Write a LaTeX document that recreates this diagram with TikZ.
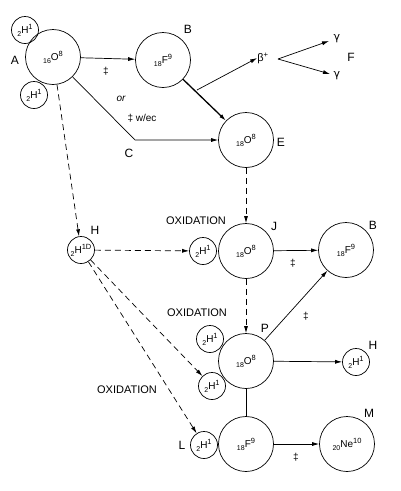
\documentclass[tikz,border=0pt]{standalone}
\usepackage{fontspec}
\setmainfont{Liberation Sans}
\newfontfamily\gfont{DejaVu Sans}
\usetikzlibrary{arrows.meta}
\newcommand\nuc[3]{\raisebox{-0.45ex}{\fontsize{7}{8}\selectfont #1}#2\raisebox{0.9ex}{\fontsize{7.5}{8}\selectfont #3}}
\tikzset{
  big/.style={draw,circle,minimum size=55pt,inner sep=0pt,font=\fontsize{10}{11}\selectfont,line width=0.7pt},
  small/.style={draw,circle,minimum size=27pt,inner sep=0pt,font=\fontsize{10}{11}\selectfont,line width=0.7pt},
  lab/.style={font=\fontsize{12}{13}\selectfont,inner sep=0pt},
  oxl/.style={font=\fontsize{11}{12}\selectfont,inner sep=0pt},
  dg/.style={font=\fontsize{10}{11}\selectfont,inner sep=0pt},
  arr/.style={line width=0.7pt,-{Latex[length=7pt,width=4pt]}},
  darr/.style={arr,dash pattern=on 6pt off 4pt},
}
\begin{document}
\begin{tikzpicture}[x=1pt,y=-1pt]
\useasboundingbox (0,0) rectangle (401,491);
% nodes
\node[big] (A) at (53,57) {\nuc{16}{O}{8}};
\node[small] (a1) at (25,30) {\nuc{2}{H}{1}};
\node[small] (a2) at (34,95) {\nuc{2}{H}{1}};
\node[big] (B) at (163,60) {\nuc{18}{F}{9}};
\node[big] (E) at (246,140) {\nuc{18}{O}{8}};
\coordinate (C) at (135,140);
\node[small] (H) at (81,250) {\nuc{2}{H}{1D}};
\node[small] (hj) at (203,251) {\nuc{2}{H}{1}};
\node[big] (J) at (246,251) {\nuc{18}{O}{8}};
\node[big] (B2) at (346,250) {\nuc{18}{F}{9}};
\node[big] (P) at (246,361) {\nuc{18}{O}{8}};
\node[small] (p1) at (210,339) {\nuc{2}{H}{1}};
\node[small] (p2) at (212,386) {\nuc{2}{H}{1}};
\node[small] (H2) at (356,362) {\nuc{2}{H}{1}};
\node[big] (Lf) at (246,444) {\nuc{18}{F}{9}};
\node[small] (Lh) at (204,445) {\nuc{2}{H}{1}};
\node[big] (M) at (347,444) {\nuc{20}{Ne}{10}};
% beta decay
\node[font=\fontsize{11}{12}\selectfont,inner sep=0pt] (beta) at (263,58) {β\textsuperscript{+}};
\coordinate (bs) at (197,90);
\coordinate (bp) at (278,59);
\coordinate (g1e) at (329,41);
\coordinate (g2e) at (330,74);
\node[font=\gfont\fontsize{11}{12}\selectfont,inner sep=0pt] (g1) at (337,39) {γ};
\node[font=\gfont\fontsize{11}{12}\selectfont,inner sep=0pt] (g2) at (337,76) {γ};
% labels
\node[lab] (lA) at (15,60) {A};
\node[lab] (lB) at (188,29) {B};
\node[lab] (lC) at (129,153) {C};
\node[lab] (lE) at (281,142) {E};
\node[lab] (lF) at (351,57) {F};
\node[lab] (lH) at (95,230) {H};
\node[lab] (lJ) at (274,226) {J};
\node[lab] (lB2) at (373,225) {B};
\node[lab] (lP) at (265,328) {P};
\node[lab] (lH2) at (373,345) {H};
\node[lab] (lL) at (182,445) {L};
\node[lab] (lM) at (369,413) {M};
\node[oxl] (o1) at (196,221) {OXIDATION};
\node[oxl] (o2) at (197,313) {OXIDATION};
\node[oxl] (o3) at (127,390) {OXIDATION};
\node[dg] (d1) at (106,71) {‡};
\node[dg] (d2) at (293,263) {‡};
\node[dg] (d3) at (306,316) {‡};
\node[dg] (d4) at (296,457) {‡};
\node[dg,font=\itshape\fontsize{10}{11}\selectfont] (or) at (121,99) {or};
\node[dg] (wec) at (142,118) {‡ w/ec};
% connectors
\draw[arr] (A) -- (B);
\draw[arr,line width=1.3pt] (B) -- (E);
\draw[arr] (bs) -- (beta.west);
\draw[arr] (bp) -- (g1e);
\draw[arr] (bp) -- (g2e);
\draw[arr] (A) -- (C) -- (E);
\draw[darr] (A) -- (H);
\draw[darr] (E) -- (J);
\draw[darr] (H) -- (hj);
\draw[arr] (J) -- (B2);
\draw[darr] (J) -- (P);
\draw[darr] (H) -- (p2);
\draw[darr] (H) -- (Lh);
\draw[arr] (P) -- (B2);
\draw[arr] (P) -- (H2);
\draw[line width=0.7pt] (P) -- (Lf);
\draw[arr] (Lf) -- (M);
\end{tikzpicture}
\end{document}
